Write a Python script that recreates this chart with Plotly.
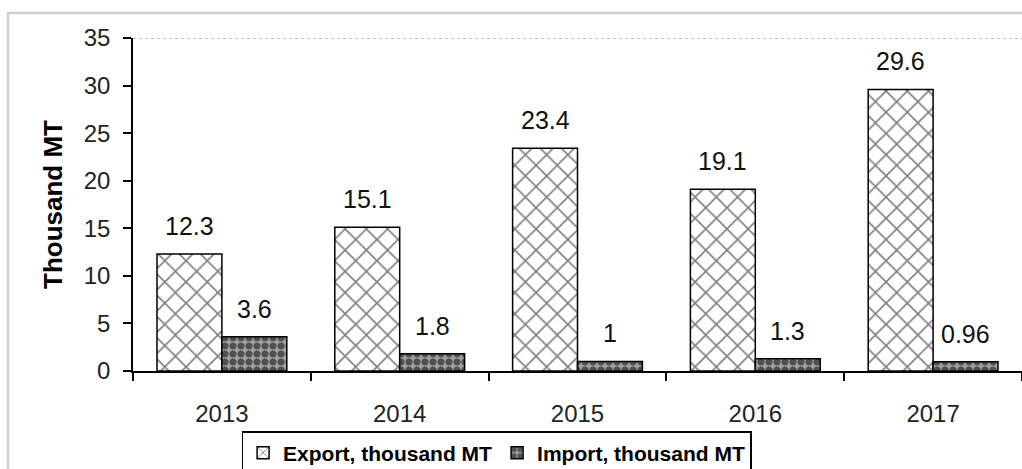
import plotly.graph_objects as go

years = ["2013", "2014", "2015", "2016", "2017"]
export_vals = [12.3, 15.1, 23.4, 19.1, 29.6]
import_vals = [3.6, 1.8, 1.0, 1.3, 0.96]
export_labels = ["12.3", "15.1", "23.4", "19.1", "29.6"]
import_labels = ["3.6", "1.8", "1", "1.3", "0.96"]
y_ticks = [0, 5, 10, 15, 20, 25, 30, 35]
Y_MAX = 35

FONT = "Arial, Liberation Sans, sans-serif"
BARGAP = 0.27
CAT_PX = 889 / len(years)
BAR_PX = CAT_PX * (1 - BARGAP) / 2

fig = go.Figure()
fig.add_trace(go.Bar(
    x=years, y=export_vals, name="Export, thousand MT",
    marker=dict(color="white", line=dict(color="black", width=1.5),
                pattern=dict(shape="x", fgcolor="black", bgcolor="white",
                             size=15, solidity=0.2)),
))
fig.add_trace(go.Bar(
    x=years, y=import_vals, name="Import, thousand MT",
    marker=dict(color="white", line=dict(color="black", width=1.5),
                pattern=dict(shape=".", fgcolor="black", bgcolor="#a0a0a0",
                             size=8, solidity=0.6)),
))

annotations = []
for i, (v, t) in enumerate(zip(export_vals, export_labels)):
    annotations.append(dict(x=i, y=v, text=t, xref="x", yref="y", showarrow=False,
                            yanchor="bottom", xshift=-BAR_PX / 2, yshift=12,
                            font=dict(family=FONT, size=25, color="#111")))
for i, (v, t) in enumerate(zip(import_vals, import_labels)):
    annotations.append(dict(x=i, y=v, text=t, xref="x", yref="y", showarrow=False,
                            yanchor="bottom", xshift=BAR_PX / 2, yshift=12,
                            font=dict(family=FONT, size=25, color="#111")))

shapes = [
    dict(type="line", xref="paper", yref="y", x0=0, x1=1, y0=Y_MAX, y1=Y_MAX,
         line=dict(color="#aaa", width=1.5, dash="dot"), layer="below"),
    dict(type="rect", xref="paper", yref="paper", x0=-0.1406, x1=1.02,
         y0=-0.5, y1=1.075, line=dict(color="#cfcfcf", width=2.5)),
]

fig.update_layout(
    width=1022, height=469,
    margin=dict(l=133, r=0, t=38, b=98, autoexpand=False),
    paper_bgcolor="white", plot_bgcolor="white",
    barmode="group", bargap=BARGAP, bargroupgap=0,
    font=dict(family=FONT, size=16, color="#222"),
    showlegend=True,
    legend=dict(orientation="h", x=0.409, xanchor="center",
                yref="container", y=1 - 431 / 469, yanchor="top",
                bordercolor="black", borderwidth=1.5, bgcolor="white",
                font=dict(family=FONT, size=21, color="black", weight="bold"),
                itemwidth=30, traceorder="normal", tracegroupgap=0),
    annotations=annotations,
    shapes=shapes,
)
fig.update_xaxes(
    type="category", range=[-0.5, len(years) - 0.5], automargin=False,
    showline=True, linecolor="black", linewidth=1.5,
    ticks="outside", tickson="boundaries", ticklen=8, tickcolor="black", tickwidth=1.5,
    ticklabelstandoff=20, showgrid=False,
    tickfont=dict(family=FONT, size=24, color="#222"),
)
fig.update_yaxes(
    range=[0, Y_MAX], tickvals=y_ticks, showgrid=False, zeroline=False,
    automargin=False,
    showline=True, linecolor="black", linewidth=1.5,
    ticks="outside", ticklen=8, tickcolor="black", tickwidth=1.5,
    ticklabelstandoff=8,
    tickfont=dict(family=FONT, size=24, color="#222"),
    title=dict(text="<b>Thousand MT</b>", standoff=14,
               font=dict(family=FONT, size=26, color="black")),
)

fig.write_html("out.html")
